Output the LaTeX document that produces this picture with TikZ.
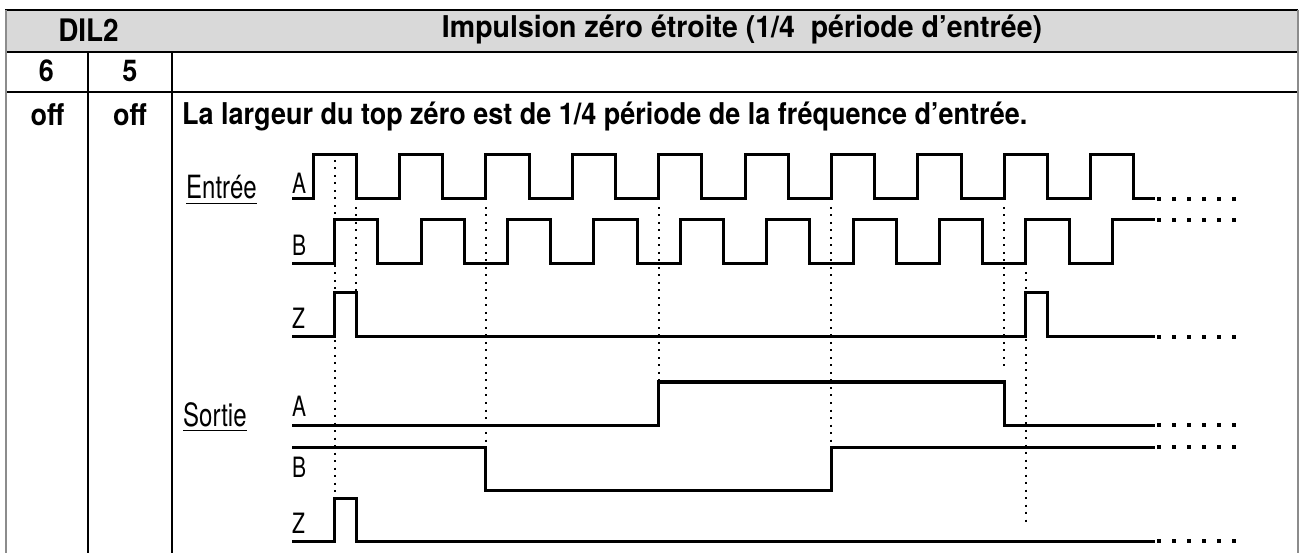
\documentclass[tikz,border=0pt]{standalone}
\usepackage{fontspec}
\setmainfont{TeX Gyre Heros}
\newfontfamily\bodyf{TeX Gyre Heros}[FakeStretch=0.9]
\newfontfamily\titlef{TeX Gyre Heros}[FakeStretch=0.95]
\newfontfamily\lightf{TeX Gyre Heros}[FakeStretch=0.75]
\usetikzlibrary{calc}
\definecolor{hdr}{RGB}{217,217,217}
\definecolor{edge}{RGB}{140,140,140}
\tikzset{
  rule/.style={line width=2pt, black},
  siderule/.style={line width=2pt, edge},
  bt/.style={inner sep=0pt, font=\bodyf\fontsize{30}{34}\selectfont\bfseries},
  lt/.style={inner sep=0pt, font=\lightf\fontsize{28}{32}\selectfont, anchor=base west},
  grp/.style={inner sep=0pt, font=\lightf\fontsize{32}{36}\selectfont, anchor=base west},
  sig/.style={line width=3pt, line join=miter, line cap=butt},
  vdot/.style={line width=2pt, dash pattern=on 2pt off 5.5pt},
  tdot/.style={line width=3.5pt, dash pattern=on 3.5pt off 11.5pt}
}
\begin{document}
\begin{tikzpicture}[x=1pt,y=-1pt]
\useasboundingbox (0,0) rectangle (1299,553);
% table
\fill[hdr] (5,10) rectangle (1297.5,52);
\draw[rule] (5,10.5) -- (1297.5,10.5);
\draw[rule] (5,52) -- (1297.5,52);
\draw[rule] (5,92.5) -- (1297.5,92.5);
\draw[rule] (88,52) -- (88,553);
\draw[rule] (172,52) -- (172,553);
\draw[siderule] (5.5,10) -- (5.5,553);
\draw[siderule] (1297.5,10) -- (1297.5,553);
% table texts
\node[bt, anchor=base, font=\bodyf\fontsize{31}{34}\selectfont\bfseries] (dil) at (88.5,41.5) {DIL2};
\node[bt, anchor=base, font=\titlef\fontsize{30}{34}\selectfont\bfseries] (title) at (742,37.5) {Impulsion zéro étroite (1/4\ \ période d’entrée)};
\node[bt, anchor=base] (six) at (46.5,82) {6};
\node[bt, anchor=base] (five) at (130,82) {5};
\node[bt, anchor=base] (off1) at (47.5,125.5) {off};
\node[bt, anchor=base] (off2) at (130,125.5) {off};
\node[bt, anchor=base west] (desc) at (182,125) {La largeur du top zéro est de 1/4 période de la fréquence d’entrée.};
% group labels
\node[grp] (ent) at (186,199) {Entrée};
\draw[line width=1.6pt] ($(ent.base west)+(0,4.5)$) -- ($(ent.base east)+(0,4.5)$);
\node[grp] (sor) at (183,426) {Sortie};
\draw[line width=1.6pt] ($(sor.base west)+(0,4.5)$) -- ($(sor.base east)+(0,4.5)$);
% signal labels
\node[lt] (la) at (292,194) {A};
\node[lt] (lb) at (292,256) {B};
\node[lt] (lz) at (292,329) {Z};
\node[lt] (oa) at (292,417) {A};
\node[lt] (ob) at (292,477) {B};
\node[lt] (oz) at (292,533) {Z};
% vertical dotted guides
\draw[vdot] (334.6,160) -- (334.6,492);
\draw[vdot] (356.2,207) -- (356.2,291);
\draw[vdot] (485.8,207) -- (485.8,446);
\draw[vdot] (658.6,207) -- (658.6,380);
\draw[vdot] (831.4,207) -- (831.4,446);
\draw[vdot] (1004.2,207) -- (1004.2,370);
\draw[vdot] (1025.8,272) -- (1025.8,524);
% input A
\draw[sig] (292,199)
  \foreach \k in {0,...,9} {
    -- ({313+86.4*\k},199) -- ({313+86.4*\k},155)
    -- ({356.2+86.4*\k},155) -- ({356.2+86.4*\k},199)
  } -- (1155,199);
% input B
\draw[sig] (292,264)
  \foreach \k in {0,...,8} {
    -- ({334.6+86.4*\k},264) -- ({334.6+86.4*\k},220)
    -- ({377.8+86.4*\k},220) -- ({377.8+86.4*\k},264)
  } -- (1112.2,264) -- (1112.2,220) -- (1155,220);
% input Z
\draw[sig] (292,337) -- (334.6,337) -- (334.6,293) -- (356.2,293) -- (356.2,337)
  -- (1025.8,337) -- (1025.8,293) -- (1047.4,293) -- (1047.4,337) -- (1155,337);
% output A
\draw[sig] (292,425) -- (658.6,425) -- (658.6,382) -- (1004.2,382) -- (1004.2,425) -- (1155,425);
% output B
\draw[sig] (292,447) -- (485.8,447) -- (485.8,490) -- (831.4,490) -- (831.4,447) -- (1155,447);
% output Z
\draw[sig] (292,541) -- (334.6,541) -- (334.6,498) -- (356.2,498) -- (356.2,541) -- (1155,541);
% trailing dots
\foreach \yy in {199,220,337,425,447,541} {
  \draw[tdot] (1157,\yy) -- (1240,\yy);
}
\end{tikzpicture}
\end{document}
